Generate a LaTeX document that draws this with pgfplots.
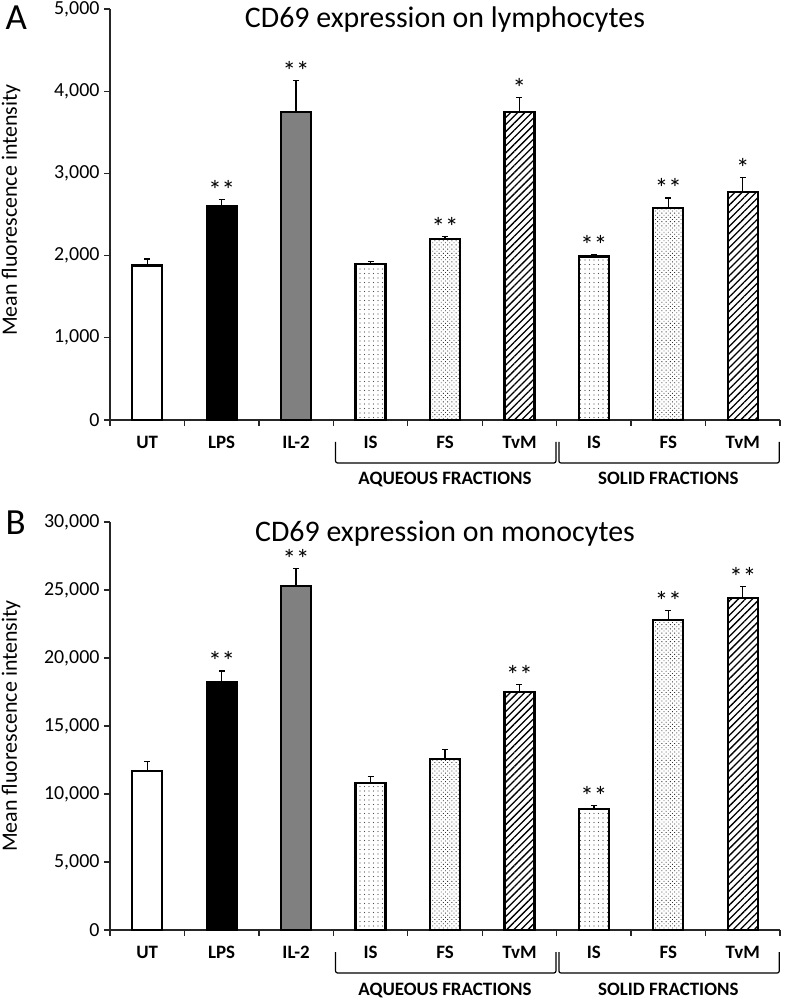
\documentclass[border=0pt]{standalone}
\usepackage{fontspec}
\setmainfont{Carlito}
\usepackage{pgfplots}
\pgfplotsset{compat=1.18}
\usetikzlibrary{patterns.meta}

\pgfplotsset{
  cd69/.style={
    scale only axis, width=670bp,
    xmin=0.5, xmax=9.5, ymin=0,
    axis x line*=bottom, axis y line*=left,
    axis line style={line width=1.3bp, black!85},
    xtick={0.5,1.5,...,9.5}, xticklabels={},
    extra x ticks={1,2,3,4,5,6,7,8,9},
    extra x tick labels={UT,LPS,IL-2,IS,FS,TvM,IS,FS,TvM},
    extra x tick style={major tick length=0pt,
      tick label style={font=\fontsize{19}{22}\selectfont\bfseries, yshift=-13bp}},
    tick align=outside, major tick length=6bp,
    tick style={line width=1.3bp, black!85},
    /pgf/number format/assume math mode=true,
    /pgf/number format/1000 sep={,},
    scaled y ticks=false,
    yticklabel style={font=\fontsize{20}{24}\selectfont, xshift=-1bp},
    clip=false,
  },
  bar/.style={ybar, bar width=30bp, line width=2.2bp, draw=black,
    /pgfplots/error bars/y dir=plus, /pgfplots/error bars/y explicit,
    /pgfplots/error bars/error bar style={line width=1.3bp, black},
    /pgfplots/error bars/error mark options={rotate=90, mark size=3bp, line width=1.3bp, black}},
}
\tikzset{star/.style={font=\fontsize{27}{30}\selectfont, anchor=south, yshift=0bp, inner sep=0pt}}

% brackets and group names under the x axis
\newcommand{\groups}{%
  \draw[line width=1.2bp, rounded corners=2bp]
    ([yshift=-22bp]axis cs:3.53,0) -- ([yshift=-43bp]axis cs:3.53,0)
    -- ([yshift=-43bp]axis cs:6.49,0) -- ([yshift=-22bp]axis cs:6.49,0);
  \draw[line width=1.2bp, rounded corners=2bp]
    ([yshift=-22bp]axis cs:6.53,0) -- ([yshift=-43bp]axis cs:6.53,0)
    -- ([yshift=-43bp]axis cs:9.49,0) -- ([yshift=-22bp]axis cs:9.49,0);
  \node[font=\fontsize{19}{22}\selectfont\bfseries, anchor=base]
    at ([yshift=-65bp]axis cs:5,0) {AQUEOUS FRACTIONS};
  \node[font=\fontsize{19}{22}\selectfont\bfseries, anchor=base]
    at ([yshift=-65bp]axis cs:8,0) {SOLID FRACTIONS};
}

\begin{document}
\begin{tikzpicture}[x=1bp, y=1bp]
\path[use as bounding box] (0,0) rectangle (787,998);

% Panel A: lymphocytes
\begin{axis}[cd69, at={(110bp,578bp)}, anchor=south west, height=411bp,
  ymax=5000, ytick={0,1000,...,5000}]
  \addplot[bar, fill=white] coordinates {(1,1880) +- (0,80)};
  \addplot[bar, fill=black] coordinates {(2,2600) +- (0,80)};
  \addplot[bar, fill=black!50] coordinates {(3,3750) +- (0,380)};
  \addplot[bar, pattern={Dots[distance=4.5bp, radius=0.55bp]}, pattern color=black!70]
    coordinates {(4,1900) +- (0,30) (7,1990) +- (0,25)};
  \addplot[bar, pattern={Dots[distance=3bp, radius=0.6bp, angle=45]}, pattern color=black!80]
    coordinates {(5,2200) +- (0,30) (8,2580) +- (0,120)};
  \addplot[bar, pattern={Lines[angle=45, distance=5bp, line width=1.3bp]}]
    coordinates {(6,3750) +- (0,170) (9,2770) +- (0,180)};
  \node[star] at (axis cs:2,2680) {**};
  \node[star] at (axis cs:3,4130) {**};
  \node[star] at (axis cs:5,2230) {**};
  \node[star] at (axis cs:6,3920) {*};
  \node[star] at (axis cs:7,2015) {**};
  \node[star] at (axis cs:8,2700) {**};
  \node[star] at (axis cs:9,2950) {*};
  \node[font=\fontsize{30}{36}\selectfont, anchor=base]
    at ([yshift=-19bp]rel axis cs:0.5,1) {CD69 expression on lymphocytes};
  \groups
\end{axis}
\node[font=\fontsize{37}{44}\selectfont, anchor=base west] at (2,968) {A};
\node[font=\fontsize{22}{26}\selectfont, rotate=90] at (11,788) {Mean fluorescence intensity};

% Panel B: monocytes
\begin{axis}[cd69, at={(110bp,68bp)}, anchor=south west, height=408bp,
  ymax=30000, ytick={0,5000,...,30000}]
  \addplot[bar, fill=white] coordinates {(1,11700) +- (0,700)};
  \addplot[bar, fill=black] coordinates {(2,18200) +- (0,850)};
  \addplot[bar, fill=black!50] coordinates {(3,25300) +- (0,1300)};
  \addplot[bar, pattern={Dots[distance=4.5bp, radius=0.55bp]}, pattern color=black!70]
    coordinates {(4,10800) +- (0,500) (7,8900) +- (0,250)};
  \addplot[bar, pattern={Dots[distance=3bp, radius=0.6bp, angle=45]}, pattern color=black!80]
    coordinates {(5,12600) +- (0,650) (8,22800) +- (0,700)};
  \addplot[bar, pattern={Lines[angle=45, distance=5bp, line width=1.3bp]}]
    coordinates {(6,17500) +- (0,550) (9,24400) +- (0,850)};
  \node[star] at (axis cs:2,19050) {**};
  \node[star] at (axis cs:3,26600) {**};
  \node[star] at (axis cs:6,18050) {**};
  \node[star] at (axis cs:7,9150) {**};
  \node[star] at (axis cs:8,23500) {**};
  \node[star] at (axis cs:9,25250) {**};
  \node[font=\fontsize{30}{36}\selectfont, anchor=base]
    at ([yshift=-20bp]rel axis cs:0.5,1) {CD69 expression on monocytes};
  \groups
\end{axis}
\node[font=\fontsize{37}{44}\selectfont, anchor=base west] at (2,463) {B};
\node[font=\fontsize{22}{26}\selectfont, rotate=90] at (11,272) {Mean fluorescence intensity};
\end{tikzpicture}
\end{document}
